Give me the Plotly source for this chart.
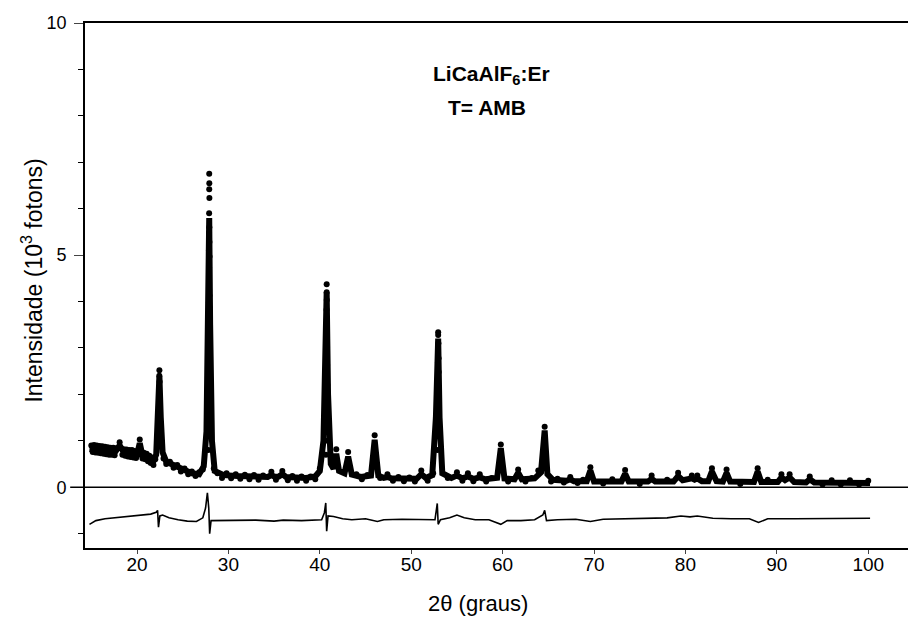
import plotly.graph_objects as go

# --- LiCaAlF6:Er powder pattern, room temperature (intensity in 10^3 photons) ---

# Calculated profile (Rietveld fit)
tt_calc = [14.8, 15.5, 16.5, 17.6, 18.1, 18.6, 19.5, 20.0, 20.3, 20.6, 21.2, 21.8,
           22.1, 22.3, 22.45, 22.6, 22.8, 23.2, 24.0, 25.0, 26.0, 26.8, 27.3, 27.6,
           27.8, 27.9, 28.0, 28.2, 28.5, 29.5, 31.0, 33.0, 34.3, 34.7, 35.1, 35.5,
           35.9, 36.3, 38.5, 39.5, 40.0, 40.4, 40.6, 40.75, 40.9, 41.2, 41.5, 41.8,
           42.1, 42.7, 43.1, 43.5, 44.5, 45.6, 46.0, 46.4, 47.0, 47.4, 47.8, 50.6,
           51.1, 51.6, 52.3, 52.7, 52.95, 53.1, 53.4, 54.4, 55.0, 55.6, 56.2, 56.8,
           57.5, 58.1, 59.4, 59.8, 60.2, 61.3, 61.7, 62.1, 63.5, 63.9, 64.2, 64.6,
           64.9, 65.5, 67.0, 67.4, 67.8, 69.2, 69.6, 70.0, 73.0, 73.4, 73.8, 75.9,
           76.3, 76.7, 78.7, 79.2, 79.7, 80.7, 81.0, 81.3, 81.8, 82.5, 82.9, 83.4,
           84.1, 84.5, 84.9, 87.5, 87.9, 88.3, 90.1, 90.5, 90.9, 91.4, 91.9, 93.2,
           93.6, 94.1, 100.2]
i_calc = [0.82, 0.82, 0.79, 0.76, 0.90, 0.74, 0.72, 0.70, 0.95, 0.68, 0.64, 0.56,
          0.70, 1.60, 2.40, 1.50, 0.75, 0.55, 0.48, 0.38, 0.30, 0.28, 0.45, 1.20,
          3.50, 5.80, 3.50, 1.00, 0.35, 0.26, 0.24, 0.22, 0.22, 0.26, 0.22, 0.23,
          0.28, 0.22, 0.20, 0.23, 0.35, 1.00, 3.00, 4.20, 2.00, 0.50, 0.40, 0.72,
          0.35, 0.30, 0.66, 0.27, 0.22, 0.25, 1.02, 0.25, 0.20, 0.22, 0.19, 0.18,
          0.28, 0.20, 0.26, 1.50, 3.20, 1.50, 0.30, 0.20, 0.25, 0.19, 0.23, 0.18,
          0.21, 0.17, 0.20, 0.84, 0.19, 0.17, 0.31, 0.17, 0.19, 0.29, 0.32, 1.22,
          0.28, 0.16, 0.14, 0.17, 0.13, 0.13, 0.36, 0.12, 0.12, 0.29, 0.12, 0.12,
          0.18, 0.12, 0.12, 0.24, 0.15, 0.19, 0.16, 0.19, 0.13, 0.13, 0.34, 0.13,
          0.12, 0.31, 0.12, 0.11, 0.34, 0.11, 0.11, 0.21, 0.15, 0.21, 0.11, 0.10,
          0.17, 0.10, 0.09]

# Observed points
tt_obs = [15.0, 15.15, 15.3, 15.45, 15.6, 15.75, 15.9, 16.05, 16.2, 16.35, 16.5,
          16.65, 16.8, 16.95, 17.1, 17.25, 17.4, 17.55, 17.7, 18.1, 18.4, 18.55,
          18.7, 18.85, 19.0, 19.15, 19.3, 19.45, 19.6, 19.75, 19.9, 20.3, 20.6,
          20.75, 20.9, 21.05, 21.2, 21.35, 21.5, 21.65, 21.8, 22.0,
          22.36, 22.52, 22.38, 22.50, 22.40, 22.48, 22.42, 22.47, 22.44, 22.45,
          22.9, 23.2, 23.6, 24.0, 24.4, 24.8, 25.2, 25.6, 26.0, 26.4, 26.8, 27.2,
          27.80, 27.98, 27.82, 27.96, 27.84, 27.95, 27.85, 27.94, 27.86, 27.93,
          27.87, 27.92, 27.88, 27.93, 27.87, 27.92, 27.88, 27.91, 27.89, 27.92,
          27.90, 27.91, 27.90,
          28.4, 28.8, 29.3, 29.8, 30.3, 30.8, 31.3, 31.8, 32.3, 32.8, 33.3, 33.8,
          34.7, 35.2, 35.9, 36.5, 37.0, 37.5, 38.0, 38.5, 39.0, 39.5, 40.0,
          40.66, 40.86, 40.68, 40.84, 40.70, 40.82, 40.71, 40.80, 40.72, 40.79,
          40.73, 40.78, 40.74, 40.77, 40.74, 40.76, 40.75, 40.75,
          41.8, 43.1, 44.0, 44.6, 45.2, 46.0, 46.6, 47.4, 48.0, 48.6, 49.2, 49.8,
          50.4, 51.1, 51.8, 52.4,
          52.86, 53.04, 52.88, 53.02, 52.90, 53.00, 52.92, 52.99, 52.93, 52.97,
          52.95, 52.95,
          54.0, 55.0, 55.6, 56.2, 56.8, 57.5, 58.2, 58.8, 59.8, 60.6, 61.7, 62.5,
          63.2, 63.9, 64.6, 65.3, 66.0, 66.7, 67.4, 68.2, 68.8, 69.6, 71.0, 72.0,
          73.4, 75.0, 76.3, 78.0, 79.2, 80.7, 81.3, 82.9, 84.5, 86.0, 87.9, 89.0,
          90.5, 91.4, 93.6, 95.0, 96.0, 97.0, 98.0, 99.0, 100.0]
i_obs = [0.90, 0.76, 0.91, 0.75, 0.90, 0.74, 0.89, 0.73, 0.88, 0.72, 0.87,
         0.71, 0.86, 0.70, 0.85, 0.70, 0.85, 0.69, 0.84, 0.97, 0.70, 0.82,
         0.68, 0.81, 0.66, 0.80, 0.65, 0.80, 0.64, 0.78, 0.63, 1.03, 0.62,
         0.74, 0.60, 0.72, 0.56, 0.68, 0.52, 0.64, 0.48, 0.60,
         1.00, 1.20, 1.37, 1.54, 1.73, 1.90, 2.08, 2.27, 2.40, 2.52,
         0.62, 0.50, 0.55, 0.42, 0.48, 0.34, 0.40, 0.28, 0.34, 0.24, 0.32, 0.38,
         0.80, 1.20, 1.60, 2.00, 2.36, 2.62, 2.88, 3.16, 3.59, 3.87,
         3.98, 4.13, 4.74, 4.97, 5.10, 5.28, 5.48, 5.60, 5.90, 6.23,
         6.42, 6.55, 6.75,
         0.40, 0.30, 0.20, 0.30, 0.19, 0.28, 0.18, 0.27, 0.17, 0.26, 0.16, 0.25,
         0.33, 0.16, 0.35, 0.15, 0.24, 0.14, 0.23, 0.14, 0.23, 0.17, 0.40,
         0.70, 1.00, 1.30, 1.60, 1.90, 2.20, 2.44, 2.63, 2.84, 3.02,
         3.17, 3.38, 3.51, 3.62, 3.82, 4.03, 4.20, 4.37,
         0.82, 0.76, 0.28, 0.17, 0.26, 1.12, 0.20, 0.28, 0.14, 0.22, 0.13, 0.21,
         0.12, 0.36, 0.14, 0.30,
         0.80, 1.20, 1.60, 2.00, 2.30, 2.48, 2.68, 2.78, 2.91, 3.10,
         3.28, 3.34,
         0.20, 0.32, 0.14, 0.30, 0.13, 0.28, 0.12, 0.20, 0.92, 0.12, 0.38, 0.12,
         0.20, 0.36, 1.30, 0.12, 0.18, 0.10, 0.22, 0.09, 0.16, 0.43, 0.08, 0.17,
         0.37, 0.07, 0.25, 0.16, 0.31, 0.25, 0.25, 0.41, 0.38, 0.07, 0.41, 0.16,
         0.28, 0.28, 0.23, 0.06, 0.15, 0.06, 0.15, 0.06, 0.14]

# Difference curve (observed - calculated), plotted with an offset below zero
tt_diff = [14.8, 15.5, 16.5, 17.5, 18.5, 19.5, 20.5, 21.5, 22.1, 22.25, 22.35, 22.5,
           22.8, 23.5, 24.5, 25.5, 26.5, 27.2, 27.5, 27.7, 27.85, 27.95, 28.1, 29.0,
           31.0, 33.0, 35.0, 36.0, 38.0, 40.2, 40.5, 40.65, 40.75, 40.9, 41.5, 42.5,
           43.5, 45.0, 46.3, 47.0, 49.0, 50.5, 52.6, 52.85, 52.95, 53.2, 54.2, 55.0,
           55.8, 57.0, 58.5, 59.8, 60.5, 62.0, 63.5, 64.4, 64.6, 64.8, 66.0, 68.0,
           69.6, 71.0, 75.0, 78.0, 79.5, 80.5, 81.3, 83.0, 85.0, 87.0, 88.0, 89.0,
           92.0, 95.0, 100.2]
i_diff = [-0.80, -0.72, -0.68, -0.66, -0.64, -0.62, -0.60, -0.58, -0.54, -0.50, -0.86, -0.62,
          -0.60, -0.66, -0.70, -0.73, -0.74, -0.66, -0.45, -0.12, -0.45, -1.00, -0.72, -0.72,
          -0.72, -0.71, -0.73, -0.71, -0.72, -0.70, -0.55, -0.34, -0.95, -0.62, -0.63, -0.68,
          -0.70, -0.68, -0.74, -0.70, -0.69, -0.70, -0.70, -0.35, -0.80, -0.70, -0.66, -0.60,
          -0.66, -0.70, -0.70, -0.80, -0.72, -0.72, -0.70, -0.60, -0.50, -0.72, -0.70, -0.69,
          -0.74, -0.69, -0.68, -0.66, -0.62, -0.64, -0.62, -0.67, -0.68, -0.68, -0.76, -0.68,
          -0.68, -0.68, -0.67]

x_ticks = [20, 30, 40, 50, 60, 70, 80, 90, 100]
y_ticks = [0, 5, 10]

FONT = "Liberation Sans, Arial, sans-serif"

fig = go.Figure()
fig.add_trace(go.Scatter(x=tt_calc, y=i_calc, mode="lines",
                         line=dict(color="black", width=6), name="calc"))
fig.add_trace(go.Scatter(x=tt_obs, y=i_obs, mode="markers",
                         marker=dict(color="black", size=6), name="obs"))
fig.add_trace(go.Scatter(x=tt_diff, y=i_diff, mode="lines",
                         line=dict(color="black", width=1.6), name="obs-calc"))

# zero line across the plot
fig.add_shape(type="line", xref="paper", yref="y", x0=-0.018, x1=1, y0=0, y1=0,
              line=dict(color="black", width=1.6))

fig.add_annotation(text="<b>LiCaAlF<sub>6</sub>:Er</b>", x=0.421, y=0.901,
                   xref="paper", yref="paper", xanchor="left", yanchor="middle",
                   showarrow=False, font=dict(family=FONT, size=21, color="black"))
fig.add_annotation(text="<b>T= AMB</b>", x=0.439, y=0.840, xref="paper", yref="paper",
                   xanchor="left", yanchor="middle", showarrow=False,
                   font=dict(family=FONT, size=21, color="black"))
fig.add_annotation(text="Intensidade (10<sup>3</sup> fotons)", x=-0.064, y=0.51,
                   xref="paper", yref="paper", textangle=-90, showarrow=False,
                   xanchor="center", yanchor="middle",
                   font=dict(family=FONT, size=23, color="black"))
fig.add_annotation(text="2θ (graus)", x=0.478, y=-0.105, xref="paper", yref="paper",
                   showarrow=False, xanchor="center", yanchor="middle",
                   font=dict(family=FONT, size=22, color="black"))

fig.update_layout(
    width=908, height=618,
    margin=dict(l=85, r=0, t=23, b=70),
    paper_bgcolor="white", plot_bgcolor="white",
    showlegend=False,
    font=dict(family=FONT, size=17, color="black"),
    xaxis=dict(range=[14.31, 104.35], tickvals=x_ticks, ticks="outside", ticklen=4,
               tickwidth=1.2, showline=True, linecolor="black", linewidth=1.6,
               mirror=True, showgrid=False, zeroline=False, ticklabelstandoff=-6,
               tickfont=dict(family=FONT, size=19)),
    yaxis=dict(range=[-1.31, 10], tickvals=y_ticks, ticks="outside", ticklen=9,
               tickwidth=1.2, showline=True, linecolor="black", linewidth=1.6,
               showgrid=False, zeroline=False, ticklabelstandoff=4,
               minor=dict(dtick=1, ticks="outside", ticklen=5, tickcolor="black"),
               tickfont=dict(family=FONT, size=18)),
)

fig.write_html("out.html")
